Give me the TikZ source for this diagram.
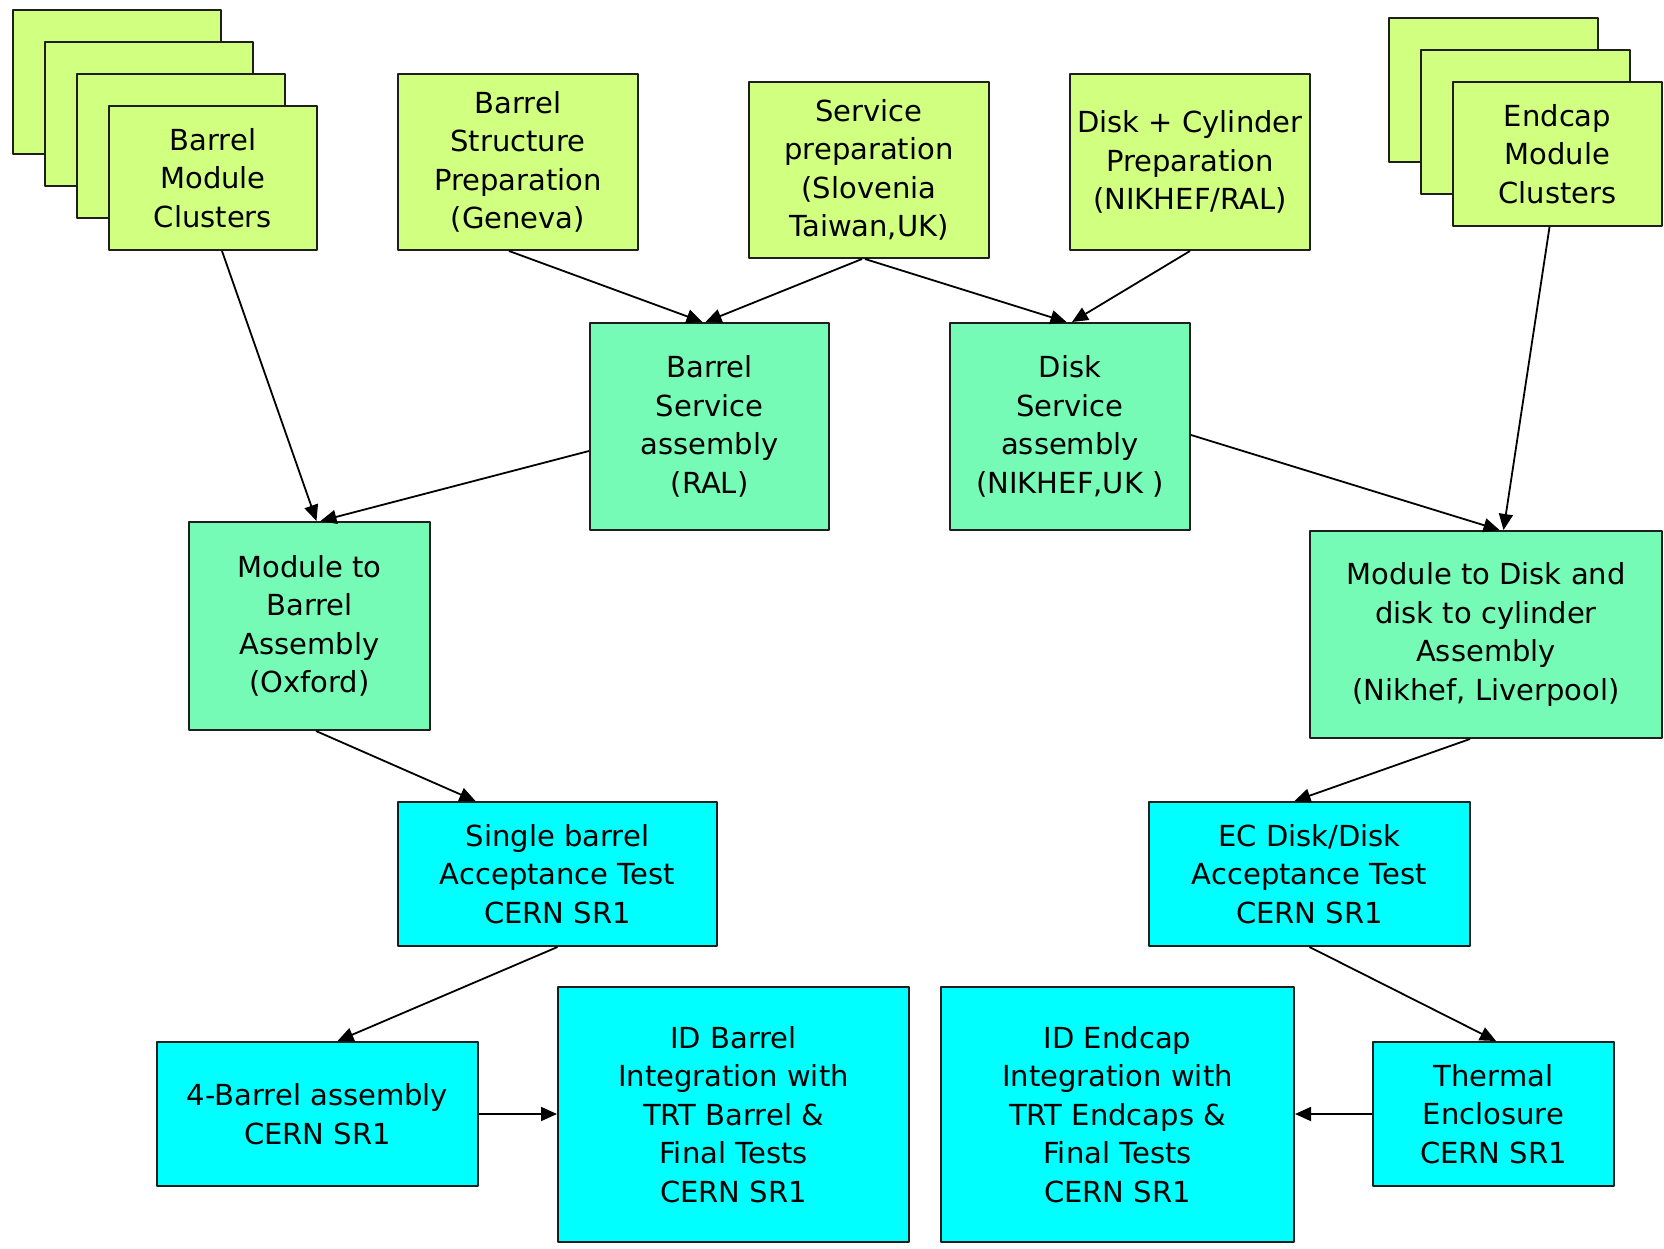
\documentclass[tikz,border=0pt]{standalone}
\usepackage{fontspec}
\setmainfont{DejaVu Sans}
\usepackage{tikz}
\usetikzlibrary{arrows.meta,calc}
\definecolor{prepgreen}{RGB}{209,255,127}
\definecolor{assygreen}{RGB}{118,251,182}
\definecolor{testcyan}{RGB}{0,255,255}
\definecolor{boxline}{RGB}{30,30,30}

\begin{document}
\begin{tikzpicture}[x=1pt, y=-1pt, line join=round,
  card/.style={draw=boxline, line width=2pt, inner sep=0pt, align=center,
    font=\fontsize{29}{38.5}\selectfont},
  prepbox/.style={card, fill=prepgreen},
  assybox/.style={card, fill=assygreen},
  testbox/.style={card, fill=testcyan},
  flow/.style={-{Triangle[length=16pt,width=14pt]}, line width=1.8pt}]
  \useasboundingbox (0,0) rectangle (1664,1249);

  % Module clusters come as a stack of cards; the back ones carry no text.
  \foreach \k in {3,2,1}
    \node[prepbox, minimum width=208pt, minimum height=144pt]
      (bmcback\k) at (213-32*\k,178-32*\k) {};
  \node[prepbox, minimum width=208pt, minimum height=144pt]
    (bmc) at (213,178) {Barrel\\Module\\Clusters};

  \foreach \k in {2,1}
    \node[prepbox, minimum width=209pt, minimum height=144pt]
      (eccback\k) at (1557.5-32*\k,154-32*\k) {};
  \node[prepbox, minimum width=209pt, minimum height=144pt]
    (ecc) at (1557.5,154) {Endcap\\Module\\Clusters};

  % Preparation sites along the top.
  \node[prepbox, minimum width=240pt, minimum height=176pt]
    (bsp) at (518,162) {Barrel\\Structure\\Preparation\\(Geneva)};
  \node[prepbox, minimum width=240pt, minimum height=176pt]
    (sprep) at (869,170) {Service\\preparation\\(Slovenia\\Taiwan,UK)};
  \node[prepbox, minimum width=240pt, minimum height=176pt]
    (dcp) at (1190,162) {Disk + Cylinder\\Preparation\\(NIKHEF/RAL)};

  % Assembly steps.
  \node[assybox, minimum width=239pt, minimum height=207pt]
    (bsa) at (709.5,426.5) {Barrel\\Service\\assembly\\(RAL)};
  \node[assybox, minimum width=240pt, minimum height=207pt]
    (dsa) at (1070,426.5) {Disk\\Service\\assembly\\(NIKHEF,UK )};
  \node[assybox, minimum width=241pt, minimum height=208pt]
    (m2b) at (309.5,626) {Module to\\Barrel\\Assembly\\(Oxford)};
  \node[assybox, minimum width=352pt, minimum height=207pt]
    (m2d) at (1486,634.5)
    {Module to Disk and\\disk to cylinder\\Assembly\\(Nikhef, Liverpool)};

  % Tests and integration at CERN.
  \node[testbox, minimum width=319pt, minimum height=144pt]
    (sbt) at (557.5,874) {Single barrel\\Acceptance Test\\CERN SR1};
  \node[testbox, minimum width=321pt, minimum height=144pt]
    (ect) at (1309.5,874) {EC Disk/Disk\\Acceptance Test\\CERN SR1};
  \node[testbox, minimum width=321pt, minimum height=144pt]
    (fba) at (317.5,1114) {4-Barrel assembly\\CERN SR1};
  \node[testbox, minimum width=351pt, minimum height=255pt]
    (idb) at (733.5,1114.5)
    {ID Barrel\\Integration with\\TRT Barrel \&\\Final Tests\\CERN SR1};
  \node[testbox, minimum width=353pt, minimum height=255pt]
    (ide) at (1117.5,1114.5)
    {ID Endcap\\Integration with\\TRT Endcaps \&\\Final Tests\\CERN SR1};
  \node[testbox, minimum width=241pt, minimum height=144pt]
    (thermal) at (1493.5,1114) {Thermal\\Enclosure\\CERN SR1};

  % Flow of parts; the ends sit a little off the box centres.
  \draw[flow] ([xshift=9pt]bmc.south) -- ([xshift=7pt]m2b.north);
  \draw[flow] ([yshift=-24.5pt]bsa.west) -- ([xshift=11pt]m2b.north);
  \draw[flow] ([xshift=-9pt]bsp.south) -- ([xshift=-7pt]bsa.north);
  \draw[flow] ([xshift=-7pt]sprep.south) -- ([xshift=-4pt]bsa.north);
  \draw[flow] ([xshift=-4pt]sprep.south) -- ([xshift=-3.5pt]dsa.north);
  \draw[flow] (dcp.south) -- ([xshift=2pt]dsa.north);
  \draw[flow] ([yshift=-8.5pt]dsa.east) -- ([xshift=13.5pt]m2d.north);
  \draw[flow] ([xshift=-8pt]ecc.south) -- ([xshift=17.5pt]m2d.north);
  \draw[flow] ([xshift=6.5pt]m2b.south) -- ([xshift=-82pt]sbt.north);
  \draw[flow] ([xshift=-16pt]m2d.south) -- ([xshift=-15pt]ect.north);
  \draw[flow] (sbt.south) -- ([xshift=20pt]fba.north);
  \draw[flow] (ect.south) -- ([xshift=2.5pt]thermal.north);
  \draw[flow] (fba.east) -- (fba.east -| idb.west);
  \draw[flow] (thermal.west) -- (thermal.west -| ide.east);
\end{tikzpicture}
\end{document}
